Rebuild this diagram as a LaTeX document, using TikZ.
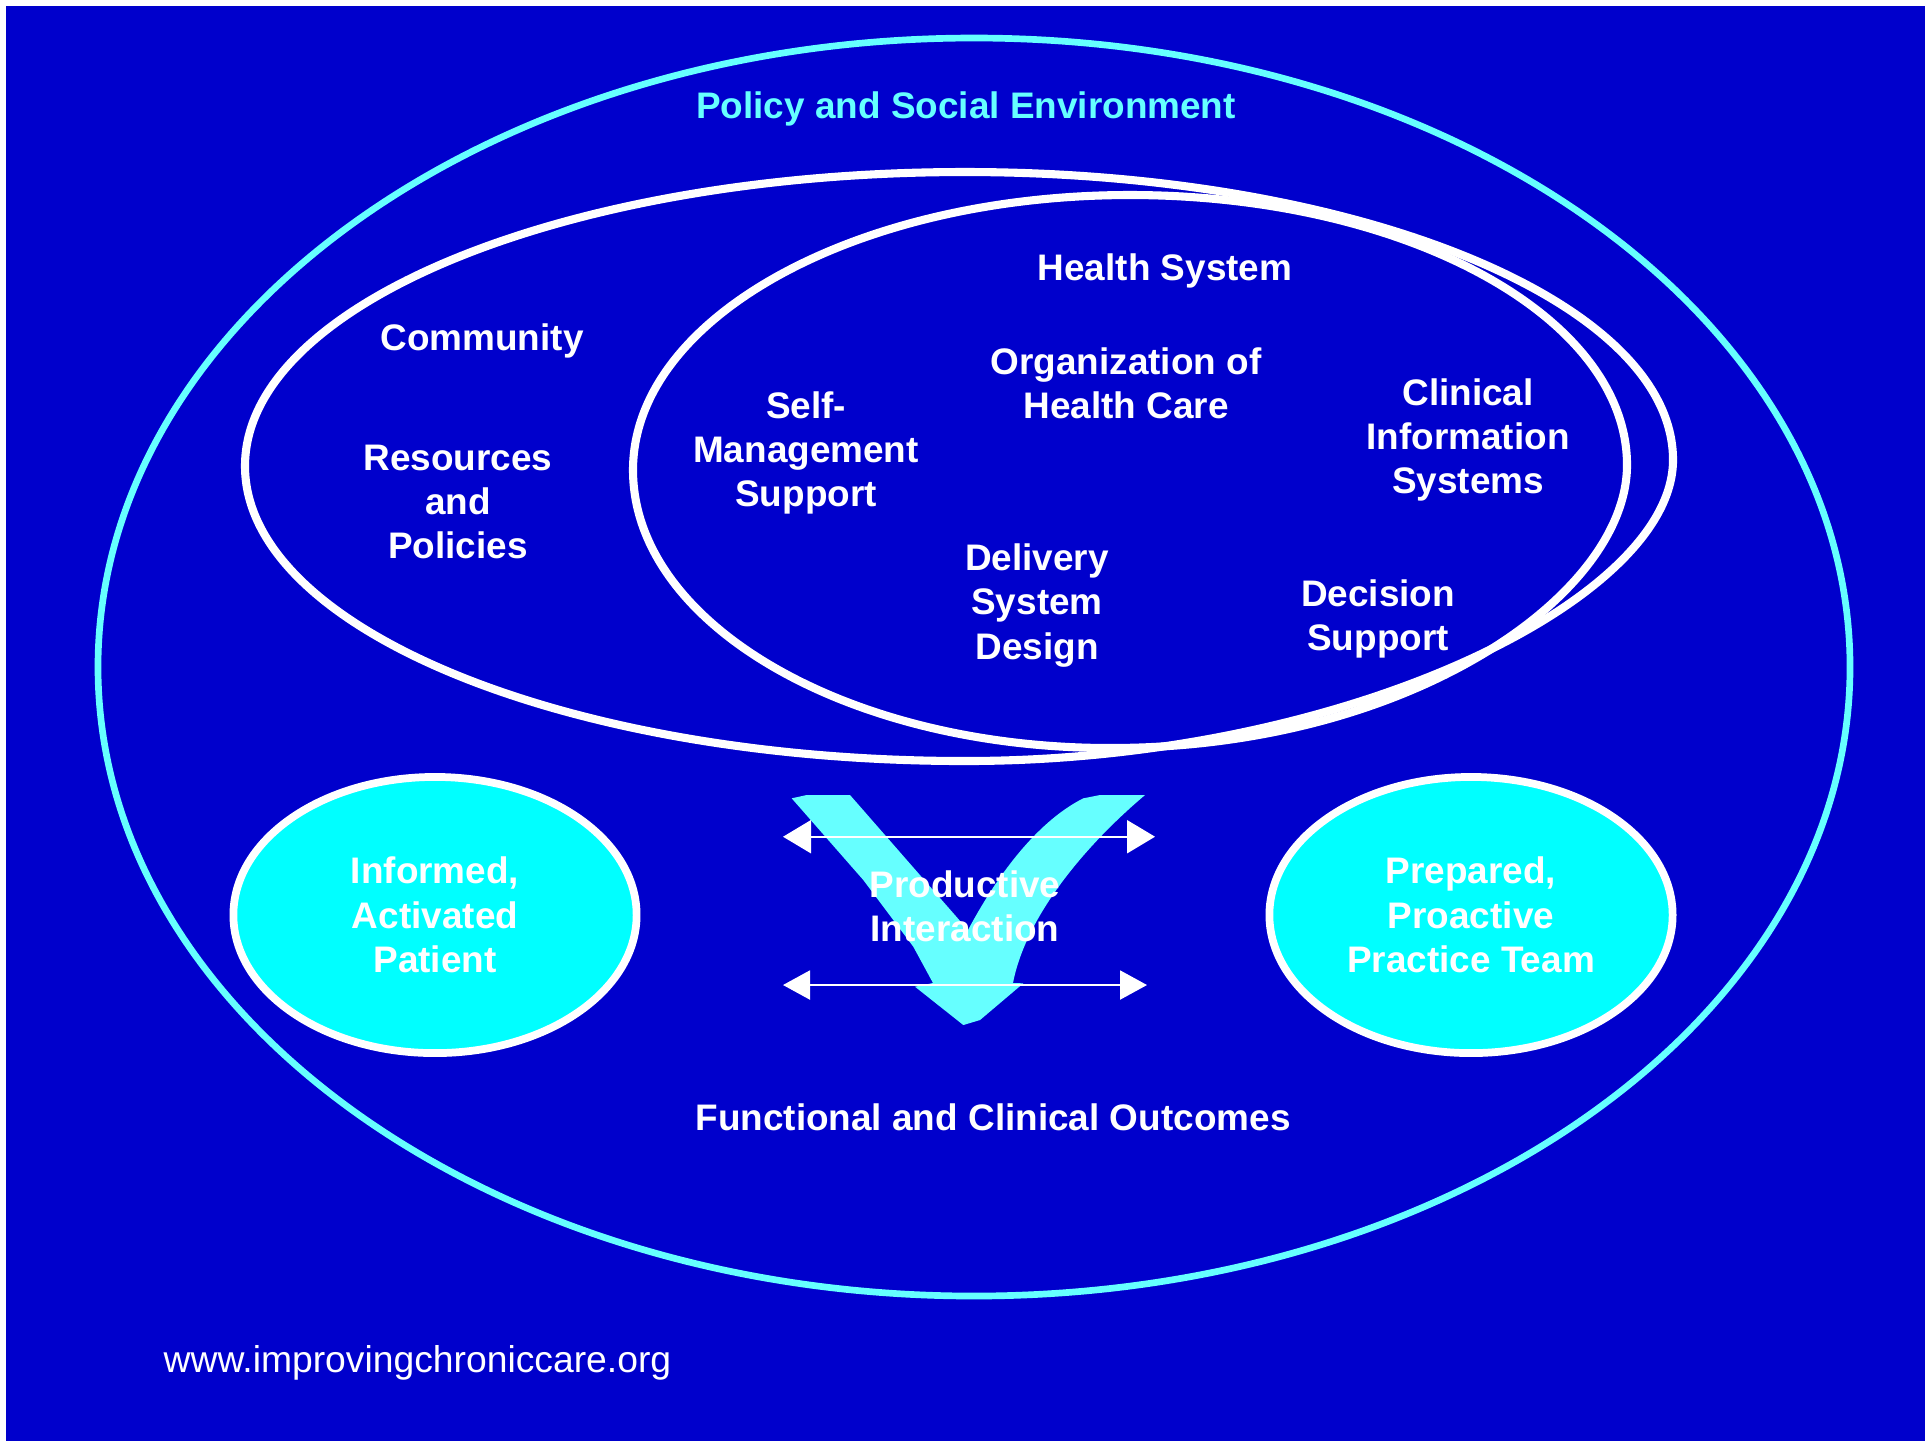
\documentclass[tikz,border=0pt]{standalone}
\usepackage{fontspec}
\setmainfont{Liberation Sans}
\usetikzlibrary{arrows.meta,shapes.geometric}
\definecolor{bgblue}{HTML}{0000CC}
\definecolor{lcyan}{HTML}{66FFFF}
\definecolor{fcyan}{HTML}{00FFFF}
\begin{document}
\begin{tikzpicture}[x=0.01cm,y=-0.01cm,
  lbl/.style={text=white,font=\fontsize{10.5}{12.6}\selectfont\bfseries,align=center,inner sep=0pt},
  ring/.style={draw=white,line width=2.3pt},
  blob/.style={ellipse,draw=white,fill=fcyan,line width=2.2pt,minimum width=4.03cm,minimum height=2.76cm,inner sep=0pt},
  dbltop/.style={white,line width=0.6pt,{Triangle[length=0.28cm,width=0.33cm]}-{Triangle[length=0.28cm,width=0.33cm]}},
  dblbot/.style={white,line width=0.6pt,{Triangle[length=0.27cm,width=0.29cm]}-{Triangle[length=0.27cm,width=0.29cm]}}
]
\useasboundingbox (0,0) rectangle (1925,1441);
\fill[white] (0,0) rectangle (1925,1441);
\fill[bgblue] (6,6) rectangle (1925,1441);

% policy and social environment
\draw[lcyan,line width=1.9pt] (974,667) ellipse [x radius=876, y radius=629];

% community
\draw[ring] (245,466) .. controls (245,303.6) and (567,172) .. (965,172)
  .. controls (1356,172) and (1673,301) .. (1673,460)
  .. controls (1673,600) and (1345,761) .. (965,761)
  .. controls (567,761) and (245,629) .. cycle;

% health system
\draw[ring] (633,470) .. controls (633,318) and (855.5,195) .. (1130,195)
  .. controls (1404.5,195) and (1627,316) .. (1627,465)
  .. controls (1627,595) and (1410,748) .. (1110,748)
  .. controls (846.6,748) and (633,623.5) .. cycle;

% patient and team
\node[blob] (patient) at (435,915) {};
\node[blob] (team) at (1471,915) {};

% check mark
\fill[lcyan] (791.7,798.3) -- (806.7,795) -- (850,795) -- (968,930)
  .. controls (1000,870) and (1040,820) .. (1083.3,798.3) -- (1100,795) -- (1145,795)
  .. controls (1080,850) and (1025,920) .. (1013,983) -- (1023.3,983.3)
  -- (980,1020) -- (963.3,1025) -- (915,986.7) -- (933,983)
  -- (913.3,946.7) -- (863.3,880) -- cycle;

% arrows
\coordinate (tl) at (783,836.7);
\coordinate (tr) at (1155,836.7);
\coordinate (bl) at (783,985);
\coordinate (br) at (1147,985);
\draw[dbltop] (tl) -- (tr);
\draw[dblbot] (bl) -- (br);

% labels
\node[lbl,text=lcyan] (policy) at (966,109) {Policy and Social Environment};
\node[lbl] (health) at (1165,271) {Health System};
\node[lbl] (community) at (482,341) {Community};
\node[lbl] (resources) at (458,502) {Resources\\and\\Policies};
\node[lbl] (selfman) at (806,453) {Self-\\Management\\Support};
\node[lbl] (org) at (1126,383) {Organization of\\Health Care};
\node[lbl] (cis) at (1468,440) {Clinical\\Information\\Systems};
\node[lbl] (dsd) at (1037,605.5) {Delivery\\System\\Design};
\node[lbl] (ds) at (1378,619) {Decision\\Support};
\node[lbl] at (patient.center) {Informed,\\Activated\\Patient};
\node[lbl] at (team.center) {Prepared,\\Proactive\\Practice Team};
\node[lbl] (prod) at (965,906) {Productive\\Interaction};
\node[lbl] (outcomes) at (993,1117) {Functional and Clinical Outcomes};
\node[text=white,font=\fontsize{10.6}{12.6}\selectfont,inner sep=0pt,anchor=base west] (web) at (163,1372.5) {www.improvingchroniccare.org};
\end{tikzpicture}
\end{document}
